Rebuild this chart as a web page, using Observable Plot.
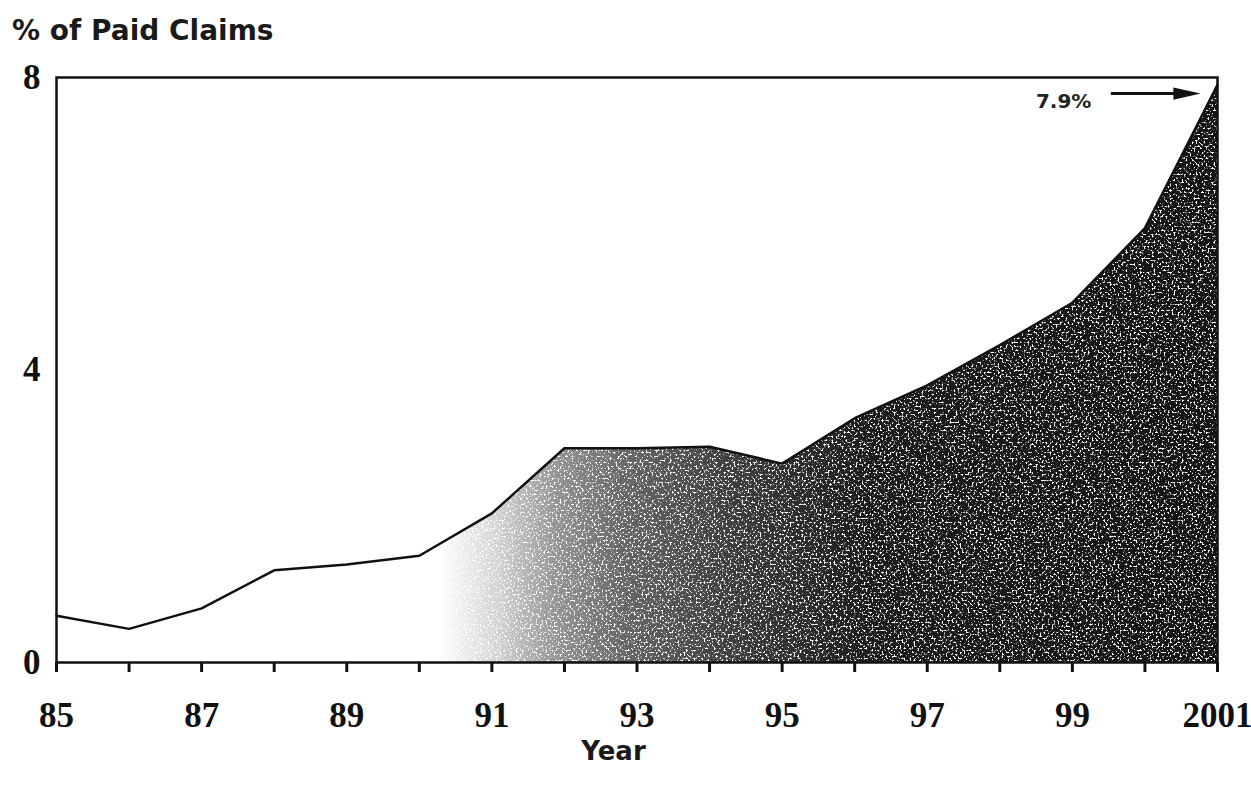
<!DOCTYPE html>
<html>
<head>
<meta charset="utf-8">
<script src="https://cdn.jsdelivr.net/npm/d3@7"></script>
<script src="https://cdn.jsdelivr.net/npm/@observablehq/plot@0.6"></script>
<style>
  html, body { margin: 0; padding: 0; background: #fff; }
  #wrap { position: relative; width: 1251px; height: 792px; overflow: hidden; }
  #title { position: absolute; left: 12px; top: 14px; font: bold 28px "DejaVu Sans", sans-serif; color: #1a1a1a; z-index: 2; }
  #xlabel { position: absolute; left: 0; width: 1251px; top: 736px; text-align: center; font: bold 26px "DejaVu Sans", sans-serif; color: #1a1a1a; }
  #xlabel span { position: relative; left: -12px; }
  #chart { position: absolute; left: 0; top: 40px; }
</style>
</head>
<body>
<div id="wrap">
  <div id="title">% of Paid Claims</div>
  <div id="chart"></div>
  <div id="xlabel"><span>Year</span></div>
</div>
<script>
// Share of paid claims, 1985–2001
const years = [1985, 1986, 1987, 1988, 1989, 1990, 1991, 1992, 1993, 1994, 1995, 1996, 1997, 1998, 1999, 2000, 2001];
const shares = [0.64, 0.46, 0.74, 1.26, 1.34, 1.46, 2.04, 2.93, 2.93, 2.95, 2.72, 3.34, 3.79, 4.34, 4.92, 5.94, 7.9];
const yTicks = [0, 4, 8];

const data = years.map((year, i) => ({year, value: shares[i]}));
const last = data[data.length - 1];

// Two-digit labels on odd years, the full year for 2001
const yearLabel = d => d % 2 === 0 ? "" : (d >= 2000 ? String(d) : String(d % 100));

const serif = '"Liberation Serif", "Times New Roman", serif';

// Long, narrow arrowhead pointing right
const headSymbol = {
  draw(context, size) {
    const s = Math.sqrt(size);
    context.moveTo(s * 0.55, 0);
    context.lineTo(-s * 0.55, -s * 0.25);
    context.lineTo(-s * 0.55, s * 0.25);
    context.closePath();
  }
};

const svg = Plot.plot({
  width: 1251,
  height: 752,
  marginTop: 37,
  marginBottom: 130,
  marginLeft: 56,
  marginRight: 34,
  x: {domain: [1985, 2001]},
  y: {domain: [0, 8]},
  style: {background: "transparent", color: "#111"},
  marks: [
    Plot.areaY(data, {x: "year", y: "value", fill: "url(#fade)"}),
    Plot.lineY(data, {x: "year", y: "value", stroke: "#111", strokeWidth: 2.5}),
    Plot.frame({stroke: "#111", strokeWidth: 2.5}),
    Plot.axisX({
      ticks: years, tickFormat: yearLabel, tickSize: 10, tickPadding: 30,
      strokeWidth: 3, label: null,
      fontSize: 35, fontWeight: "bold", fontFamily: serif, fill: "#111"
    }),
    Plot.axisY({
      ticks: yTicks, tickSize: 0, tickPadding: 16, label: null,
      fontSize: 35, fontWeight: "bold", fontFamily: serif, fill: "#111"
    }),
    // Call-out for the final value: shaft, head and label
    Plot.link([last], {
      x1: d => d.year - 1.47, x2: d => d.year - 0.45,
      y1: d => d.value - 0.12, y2: d => d.value - 0.12,
      stroke: "#111", strokeWidth: 3
    }),
    Plot.dot([last], {
      x: d => d.year - 0.42, y: d => d.value - 0.12,
      symbol: headSymbol, r: 14, fill: "#111", stroke: "none"
    }),
    Plot.text([last], {
      x: d => d.year - 2.12, y: d => d.value - 0.23,
      text: d => `${d.value.toFixed(1)}%`,
      fontSize: 20, fontWeight: "bold", fontFamily: '"DejaVu Sans", sans-serif', fill: "#222"
    })
  ]
});

// Gradient from white to near-black, plus a light speckle over the dark part
d3.select(svg).insert("defs", ":first-child").html(`
  <linearGradient id="fade" x1="0" x2="1" y1="0" y2="0">
    <stop offset="0.33" stop-color="#ffffff"/>
    <stop offset="0.38" stop-color="#d4d4d4"/>
    <stop offset="0.43" stop-color="#959595"/>
    <stop offset="0.49" stop-color="#666666"/>
    <stop offset="0.58" stop-color="#3e3e3e"/>
    <stop offset="0.70" stop-color="#1c1c1c"/>
    <stop offset="1" stop-color="#141414"/>
  </linearGradient>
  <filter id="grain" x="0" y="0" width="1" height="1" color-interpolation-filters="sRGB">
    <feTurbulence type="fractalNoise" baseFrequency="0.5" numOctaves="2" seed="7" result="noise"/>
    <feColorMatrix in="noise" type="matrix"
      values="0 0 0 0 1  0 0 0 0 1  0 0 0 0 1  7 0 0 0 -3.8" result="dots"/>
    <feComposite in="dots" in2="SourceGraphic" operator="in" result="clipped"/>
    <feMerge><feMergeNode in="SourceGraphic"/><feMergeNode in="clipped"/></feMerge>
  </filter>
`);
d3.select(svg).select("g[aria-label='area'] path").attr("filter", "url(#grain)");

document.getElementById("chart").appendChild(svg);
</script>
</body>
</html>
